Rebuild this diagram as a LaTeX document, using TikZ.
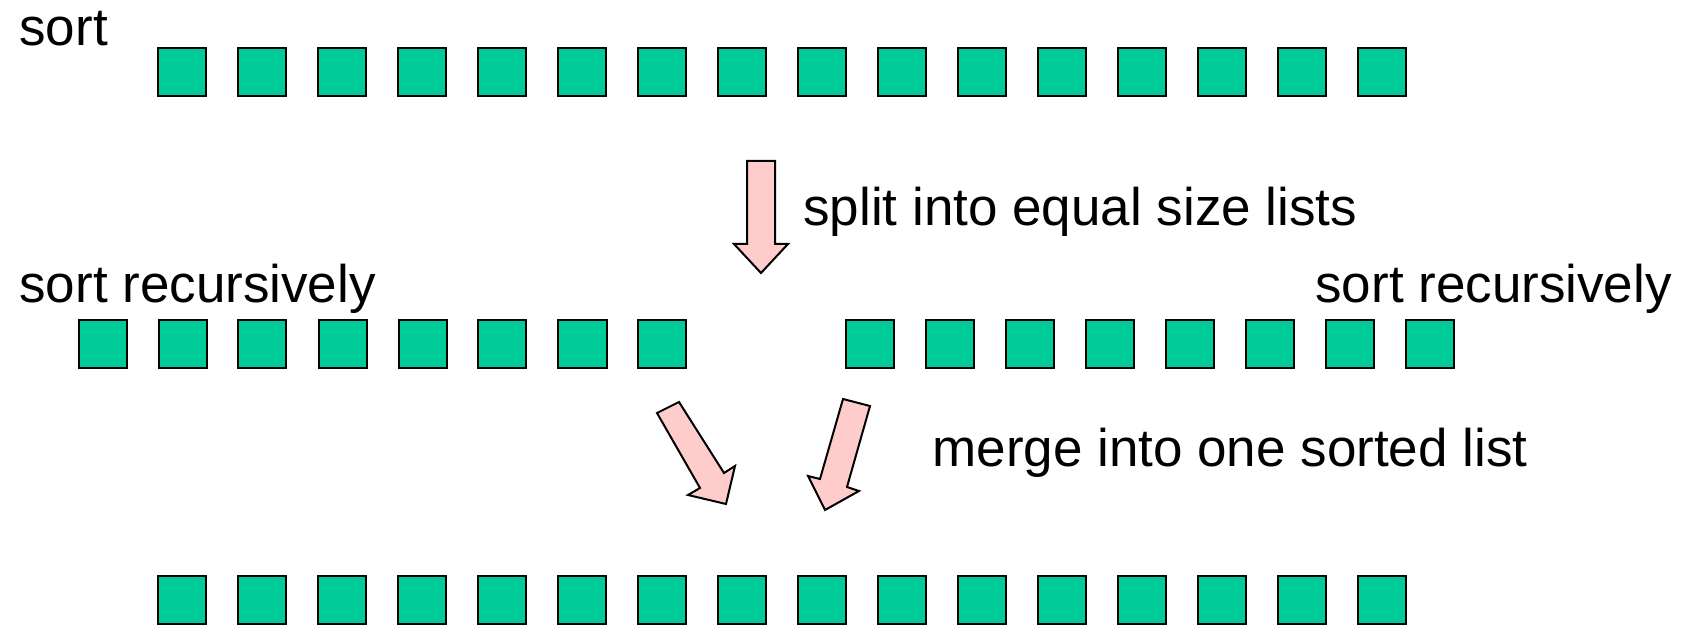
\documentclass[tikz,border=0pt]{standalone}
\usepackage{fontspec}
\setmainfont{Liberation Sans}
\usetikzlibrary{matrix}
\definecolor{cellgreen}{RGB}{0,204,153}
\definecolor{arrowpink}{RGB}{255,204,204}

\begin{document}
\begin{tikzpicture}[x=0.5pt,y=-0.5pt,
  cell/.style={draw,fill=cellgreen,line width=1pt,minimum size=24pt,inner sep=0pt,outer sep=0pt},
  cellrow/.style={matrix of nodes,nodes in empty cells,column sep=15pt,inner sep=0pt,outer sep=0pt,nodes={cell}},
  txt/.style={font=\fontsize{26.5}{30}\selectfont,inner sep=0pt,anchor=base west},
  blockarrow/.style={draw,fill=arrowpink,line width=1pt,line join=miter}]
  \useasboundingbox (0,0) rectangle (1688,625);
  % the list, the two halves, the merged list
  \matrix (top) [cellrow] at (782,72.5) { &&&&&&&&&&&&&&& \\};
  \matrix (left) [cellrow] at (382.5,344.5) { &&&&&&& \\};
  \matrix (right) [cellrow] at (1150,344.5) { &&&&&&& \\};
  \matrix (bottom) [cellrow] at (782,600) { &&&&&&&&&&&&&&& \\};
  % texts
  \node[txt] (sort) at (19,46) {sort};
  \node[txt] (recleft) at (19,303) {sort recursively};
  \node[txt] (recright) at (1315,303) {sort recursively};
  \node[txt] (split) at (803,226) {split into equal size lists};
  \node[txt] (merge) at (932,467) {merge into one sorted list};
  % block arrows
  \draw[blockarrow] (747,161) -- (775,161) -- (775,244) -- (788,244) -- (761,273)
    -- (734,244) -- (747,244) -- cycle;
  \draw[blockarrow] (657,413) -- (679,402) -- (724,473) -- (735,466) -- (726,504)
    -- (688,495) -- (700,488) -- cycle;
  \draw[blockarrow] (843,399) -- (870,406) -- (847,487) -- (859,491) -- (825,510)
    -- (808,476) -- (820,479) -- cycle;
\end{tikzpicture}
\end{document}
